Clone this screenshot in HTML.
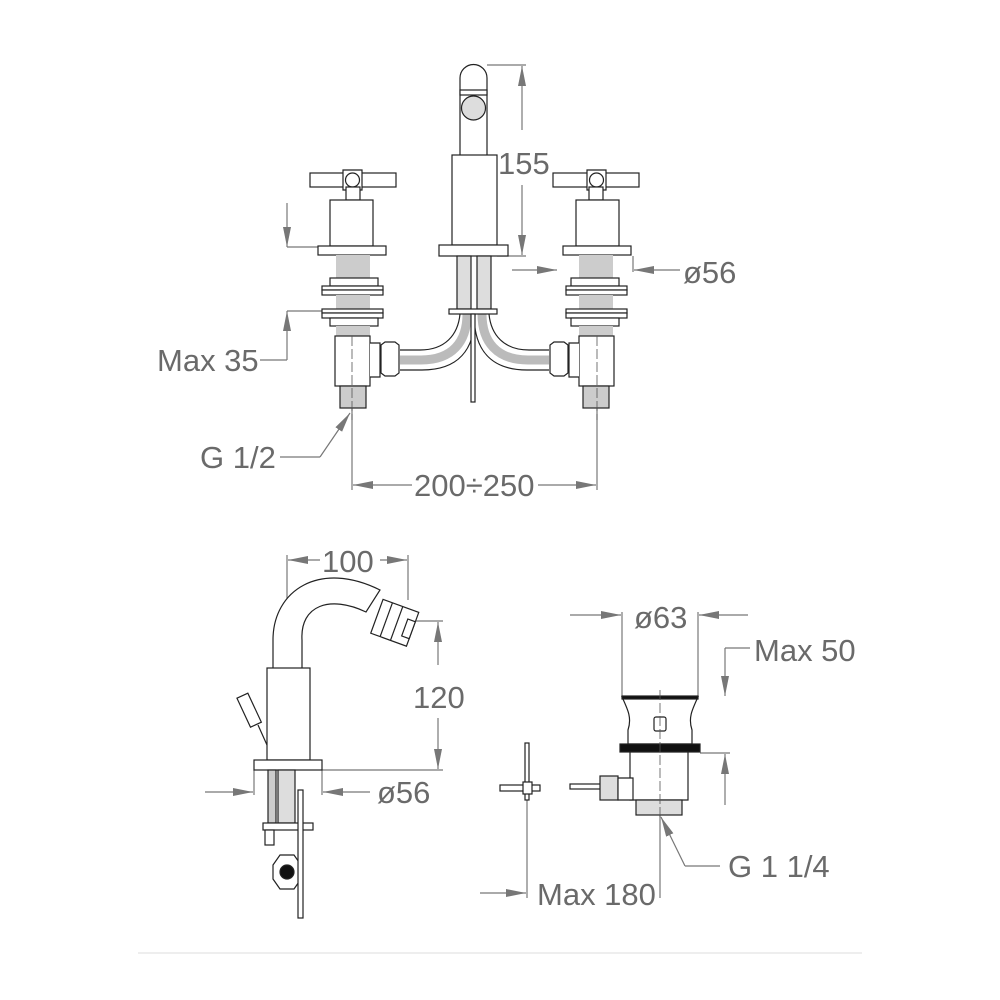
<!DOCTYPE html>
<html><head><meta charset="utf-8"><style>
html,body{margin:0;padding:0;background:#fff;}
svg{display:block;}
text{font-family:"Liberation Sans",Arial,sans-serif;fill:#6a6a6a;font-size:31px;}
</style></head><body>
<svg width="1000" height="1000" viewBox="0 0 1000 1000" xmlns="http://www.w3.org/2000/svg">
<defs>
<marker id="a" viewBox="0 0 20 10" refX="20" refY="5" markerWidth="20" markerHeight="10" markerUnits="userSpaceOnUse" orient="auto"><path d="M0,1 L20,5 L0,9z" fill="#777"/></marker>
<g id="valve" stroke="#222" stroke-width="1.2" fill="#fff">
<rect x="310" y="173" width="86" height="14"/>
<path d="M343,170 h19 v20 h-19z"/>
<circle cx="352.5" cy="180" r="7"/>
<rect x="346" y="187" width="14" height="13"/>
<rect x="330" y="200" width="43" height="46"/>
<rect x="318" y="246" width="68" height="9"/>
<rect x="336" y="255" width="34" height="23" fill="#ccc" stroke="none"/>
<rect x="330" y="278" width="48" height="8"/>
<rect x="322" y="286" width="61" height="4"/><rect x="322" y="290" width="61" height="5"/>
<rect x="336" y="295" width="34" height="14" fill="#ccc" stroke="none"/>
<rect x="322" y="309" width="61" height="4"/><rect x="322" y="313" width="61" height="5"/>
<rect x="330" y="318" width="48" height="8"/>
<rect x="336" y="326" width="34" height="10" fill="#ccc" stroke="none"/>
<rect x="335" y="336" width="35" height="50"/>
<path d="M370,343 h10 v34 h-10" />
<path d="M381,345 l4,-3 h10 l4,3 v28 l-4,3 h-10 l-4,-3z"/>
<rect x="340" y="386" width="26" height="22" fill="#ccc"/>
<line x1="352" y1="336" x2="352" y2="420" stroke="#555" stroke-width="0.8" stroke-dasharray="10,3"/>
</g>
</defs>
<g stroke="#777" stroke-width="1.2" fill="none">
<!-- top dims -->
<line x1="487" y1="65" x2="526" y2="65"/><line x1="497" y1="256" x2="526" y2="256"/>
<line x1="522" y1="130" x2="522" y2="66" marker-end="url(#a)"/>
<line x1="522" y1="185" x2="522" y2="255" marker-end="url(#a)"/>
<line x1="287" y1="203" x2="287" y2="247" marker-end="url(#a)"/>
<line x1="287" y1="247" x2="318" y2="247"/>
<line x1="287" y1="360" x2="287" y2="311" marker-end="url(#a)"/>
<line x1="287" y1="311" x2="322" y2="311"/>
<line x1="287" y1="360" x2="260" y2="360"/>
<line x1="512" y1="270" x2="557" y2="270" marker-end="url(#a)"/>
<line x1="680" y1="270" x2="634" y2="270" marker-end="url(#a)"/>
<line x1="633" y1="256" x2="633" y2="272"/>
<line x1="280" y1="457" x2="320" y2="457"/>
<line x1="320" y1="457" x2="350" y2="413" marker-end="url(#a)"/>
<line x1="352" y1="408" x2="352" y2="490"/><line x1="597" y1="408" x2="597" y2="490"/>
<line x1="412" y1="485" x2="353" y2="485" marker-end="url(#a)"/>
<line x1="538" y1="485" x2="596" y2="485" marker-end="url(#a)"/>
<!-- bottom left dims -->
<line x1="287" y1="555" x2="287" y2="668"/><line x1="408" y1="555" x2="408" y2="600"/>
<line x1="320" y1="560" x2="288" y2="560" marker-end="url(#a)"/>
<line x1="380" y1="560" x2="407" y2="560" marker-end="url(#a)"/>
<line x1="415" y1="621" x2="443" y2="621"/><line x1="322" y1="770" x2="443" y2="770"/>
<line x1="438" y1="665" x2="438" y2="622" marker-end="url(#a)"/>
<line x1="438" y1="718" x2="438" y2="769" marker-end="url(#a)"/>
<line x1="205" y1="792" x2="253" y2="792" marker-end="url(#a)"/>
<line x1="370" y1="792" x2="323" y2="792" marker-end="url(#a)"/>
<line x1="254" y1="770" x2="254" y2="795"/><line x1="322" y1="770" x2="322" y2="795"/>
<!-- bottom right dims -->
<line x1="570" y1="615" x2="621" y2="615" marker-end="url(#a)"/>
<line x1="748" y1="615" x2="699" y2="615" marker-end="url(#a)"/>
<line x1="622" y1="612" x2="622" y2="697"/><line x1="698" y1="612" x2="698" y2="697"/>
<line x1="725" y1="648" x2="750" y2="648"/>
<line x1="725" y1="648" x2="725" y2="696" marker-end="url(#a)"/>
<line x1="700" y1="753" x2="730" y2="753"/>
<line x1="725" y1="805" x2="725" y2="754" marker-end="url(#a)"/>
<line x1="527" y1="800" x2="527" y2="898"/><line x1="660" y1="815" x2="660" y2="898"/>
<line x1="480" y1="893" x2="526" y2="893" marker-end="url(#a)"/>
<line x1="720" y1="866" x2="685" y2="866"/>
<line x1="685" y1="866" x2="661" y2="817" marker-end="url(#a)"/>
</g>
<!-- valves -->
<use href="#valve"/>
<use href="#valve" transform="translate(949,0) scale(-1,1)"/>
<!-- hoses -->
<g fill="none" stroke="#222" stroke-width="1.2">
<path d="M400,350 H420 C445,350 458,335 460,314"/><path d="M400,370 H422 C458,370 475,350 475,314"/>
<path d="M549,350 H529 C504,350 491,335 489,314"/><path d="M549,370 H527 C491,370 474,350 474,314"/>
</g>
<g fill="none" stroke="#bbb" stroke-width="9"><path d="M400,360 H421 C452,360 467,342 467,314"/><path d="M549,360 H528 C497,360 482,342 482,314"/></g>
<!-- spout top -->
<g stroke="#222" stroke-width="1.2" fill="#fff">
<path d="M460,155 V78 a13.5,13.5 0 0 1 27,0 V155"/>
<rect x="460" y="90" width="27" height="5"/>
<circle cx="473.5" cy="108" r="12" fill="#ddd"/>
<rect x="452" y="155" width="45" height="90"/>
<rect x="439" y="245" width="69" height="11"/>
<rect x="457" y="256" width="14" height="53" fill="#ddd"/><rect x="477" y="256" width="14" height="53" fill="#ddd"/>
<rect x="449" y="309" width="48" height="5"/>
<rect x="471" y="314" width="4" height="88"/>
</g>
<!-- bidet side -->
<g stroke="#222" stroke-width="1.2" fill="#fff">
<path d="M273,668 V640 C273,590 320,560 380,590 L366,612 C330,595 300,605 302,640 V668"/>
<g transform="rotate(20 395 625)"><rect x="375" y="605" width="38" height="36"/><line x1="385" y1="605" x2="385" y2="641"/><line x1="396" y1="605" x2="396" y2="641"/><rect x="405" y="615" width="8" height="18"/></g>
<line x1="287" y1="668" x2="287" y2="680" stroke-dasharray="6,3"/>
<rect x="267" y="668" width="43" height="92"/>
<g transform="rotate(-25 250 712)"><rect x="244" y="694" width="12" height="32"/></g>
<path d="M258,725 L267,745"/>
<rect x="254" y="760" width="68" height="10"/>
<rect x="268" y="770" width="8" height="53" fill="#ccc"/><rect x="278" y="770" width="17" height="53" fill="#ddd"/>
<rect x="263" y="823" width="50" height="7"/>
<rect x="265" y="830" width="9" height="15"/>
<path d="M273,865 l7,-10 h14 l7,10 v14 l-7,10 h-14 l-7,-10z"/>
<circle cx="287" cy="872" r="7" fill="#111"/>
<rect x="298" y="790" width="5" height="128"/>
</g>
<!-- waste -->
<g stroke="#222" stroke-width="1.2" fill="#fff">
<path d="M622,697 H698 C692,710 688,718 692,730 V744 H628 V730 C632,718 628,710 622,697z"/>
<rect x="622" y="696" width="76" height="3" fill="#111"/>
<rect x="654" y="717" width="12" height="14" rx="2"/>
<rect x="620" y="744" width="80" height="8" fill="#111"/>
<path d="M630,752 H688 V800 H630z"/>
<rect x="636" y="800" width="46" height="15" fill="#ddd"/>
<rect x="570" y="784" width="40" height="5"/>
<rect x="600" y="776" width="18" height="24" fill="#ddd"/>
<path d="M618,778 h15 v22 h-15z"/>
<rect x="525" y="743" width="4" height="57"/>
<rect x="500" y="785" width="40" height="6"/>
<rect x="523" y="782" width="9" height="12"/>
<line x1="660" y1="690" x2="660" y2="820" stroke="#555" stroke-width="0.8" stroke-dasharray="10,3"/>
</g>
<!-- labels -->
<text x="498" y="174">155</text>
<text x="683" y="283">ø56</text>
<text x="157" y="371">Max 35</text>
<text x="200" y="468">G 1/2</text>
<text x="414" y="496">200÷250</text>
<text x="322" y="572">100</text>
<text x="413" y="708">120</text>
<text x="377" y="803">ø56</text>
<text x="634" y="628">ø63</text>
<text x="754" y="661">Max 50</text>
<text x="537" y="905">Max 180</text>
<text x="728" y="877">G 1 1/4</text>
<line x1="138" y1="953" x2="862" y2="953" stroke="#ddd" stroke-width="1"/>
</svg>
</body></html>
